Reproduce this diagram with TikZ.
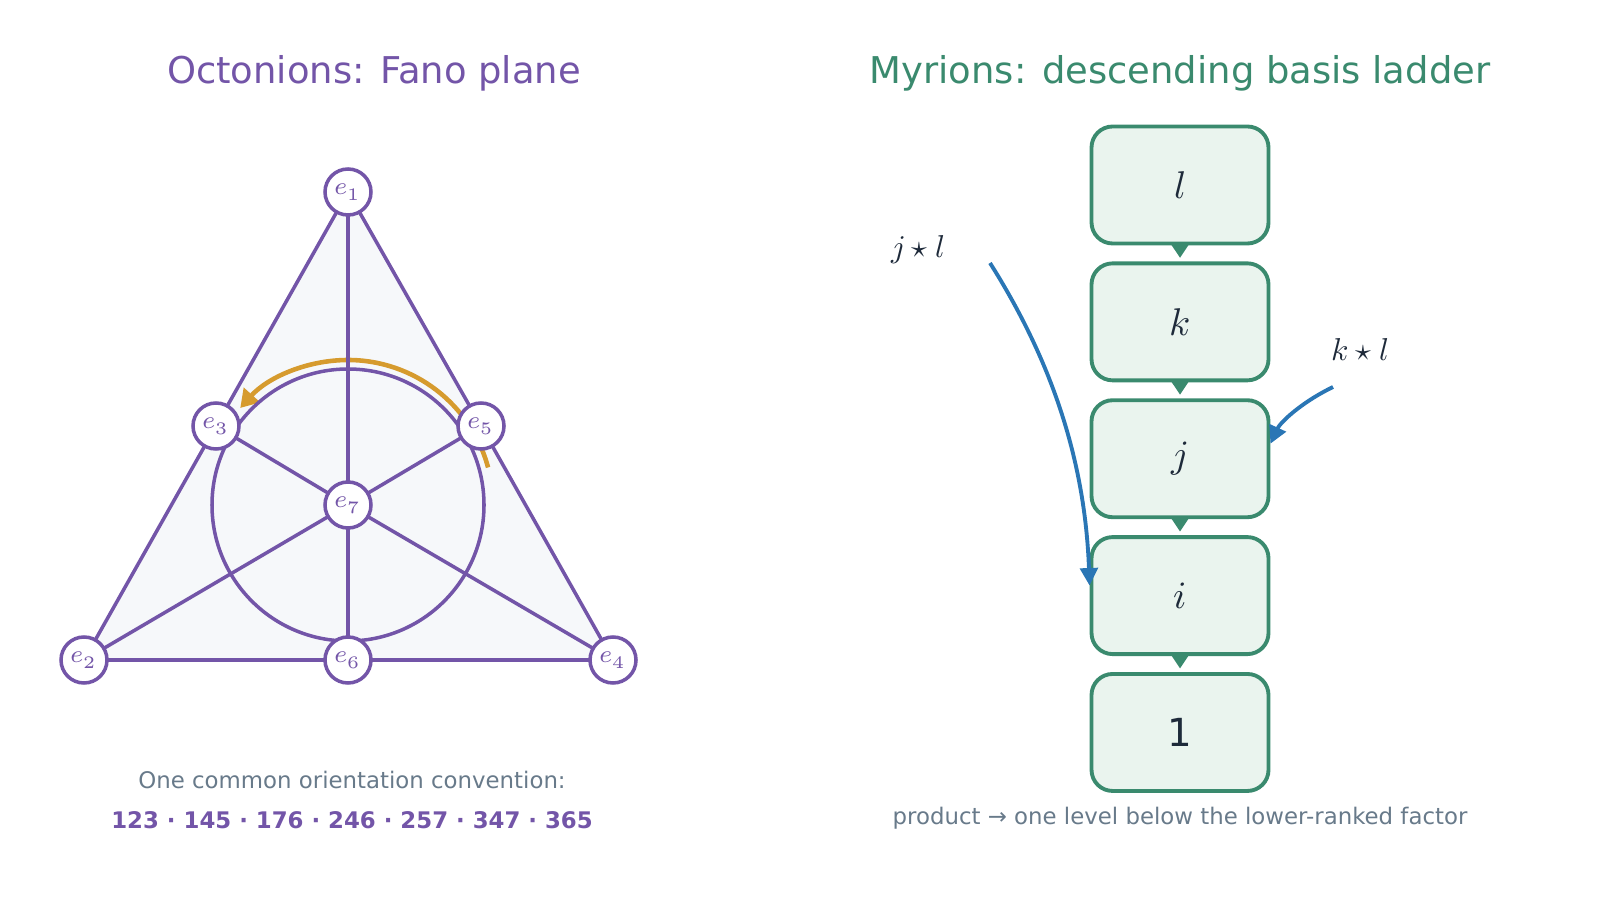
\documentclass[tikz,border=0pt]{standalone}
\usepackage{fontspec}
\setmainfont{DejaVu Sans}
\usepackage{unicode-math}
\setmathfont{Latin Modern Math}
\usetikzlibrary{positioning,arrows.meta,calc}
\definecolor{fano}{HTML}{7355A8}
\definecolor{ladder}{HTML}{3A8A6E}
\definecolor{boxfill}{HTML}{EAF4EE}
\definecolor{orient}{HTML}{D69B2E}
\definecolor{prod}{HTML}{2A76B5}
\definecolor{ink}{HTML}{1E2A3A}
\definecolor{note}{HTML}{687A8A}
\definecolor{plane}{HTML}{F6F8FA}
\tikzset{
  pt/.style={circle,draw=fano,fill=white,line width=1pt,minimum size=0.46cm,inner sep=0pt,text=fano,font=\fontsize{7}{8}\selectfont},
  fline/.style={draw=fano,line width=1pt},
  rung/.style={draw=ladder,fill=boxfill,line width=1.1pt,rounded corners=6pt,minimum width=1.77cm,minimum height=1.17cm,font=\fontsize{11}{12}\selectfont,text=ink},
  down/.style={-{Triangle[length=4pt,width=5pt]},ladder,line width=1.1pt},
  jump/.style={-{Triangle[length=5pt,width=5pt]},prod,line width=1.1pt},
}
\begin{document}
\begin{tikzpicture}
\useasboundingbox (0,0) rectangle (16,9.18);
% titles
\node[text=fano,font=\fontsize{10.5}{12}\selectfont] at (3.74,8.45) {Octonions: Fano plane};
\node[text=ladder,font=\fontsize{10.5}{12}\selectfont] at (11.8,8.45) {Myrions: descending basis ladder};
% Fano plane
\coordinate (c) at (3.48,4.13);
\fill[plane] (3.48,7.26) -- (0.84,2.58) -- (6.13,2.58) -- cycle;
\draw[orient,line width=1.3pt] ($(c)+(15:1.45)$) arc (15:90:1.45);
\draw[orient,line width=1.3pt,-{Triangle[length=5pt,width=6pt]}] ($(c)+(90:1.45)$) arc (90:138:1.45);
\coordinate (e1) at (3.48,7.26);
\coordinate (e2) at (0.84,2.58);
\coordinate (e4) at (6.13,2.58);
\coordinate (e6) at (3.48,2.58);
\coordinate (e3) at (2.16,4.92);
\coordinate (e5) at (4.81,4.92);
\coordinate (e7) at (3.48,4.13);
\draw[fline] (c) circle (1.36);
\foreach \a/\b in {e1/e3,e3/e2,e2/e6,e6/e4,e4/e5,e5/e1,e1/e7,e7/e6,e2/e7,e7/e5,e4/e7,e7/e3}
  \draw[fline] (\a) -- (\b);
\foreach \n/\t in {e1/1,e2/2,e3/3,e4/4,e5/5,e6/6,e7/7}
  \node[pt] (n\t) at (\n) {$e_{\t}$};
\node[text=note,font=\fontsize{6.5}{8}\selectfont] at (3.52,1.38) {One common orientation convention:};
\node[text=fano,font=\bfseries\fontsize{6.5}{8}\selectfont] at (3.52,0.98) {123 · 145 · 176 · 246 · 257 · 347 · 365};
% ladder
\node[rung] (l) at (11.8,7.33) {$l$};
\node[rung,below=0.16cm of l] (k) {$k$};
\node[rung,below=0.16cm of k] (j) {$j$};
\node[rung,below=0.16cm of j] (i) {$i$};
\node[rung,below=0.16cm of i] (one) {1};
\foreach \a/\b in {l/k,k/j,j/i,i/one}
  \draw[down] ([yshift=-1pt]\a.south) -- ([yshift=1pt]\b.north);
\node[text=ink,font=\fontsize{9}{10}\selectfont] (jl) at (9.18,6.68) {$j\star l$};
\node[text=ink,font=\fontsize{9}{10}\selectfont] (kl) at (13.6,5.68) {$k\star l$};
\coordinate (jls) at (9.9,6.55);
\coordinate (kls) at (13.33,5.31);
\draw[jump] (jls) .. controls (10.5,5.6) and (10.85,4.6) .. ([yshift=0.1cm]i.west);
\draw[jump] (kls) .. controls (13.0,5.15) and (12.8,4.95) .. ([yshift=0.15cm]j.east);
\node[text=note,font=\fontsize{6.5}{8}\selectfont] at (11.8,1.0) {product → one level below the lower-ranked factor};
\end{tikzpicture}
\end{document}
